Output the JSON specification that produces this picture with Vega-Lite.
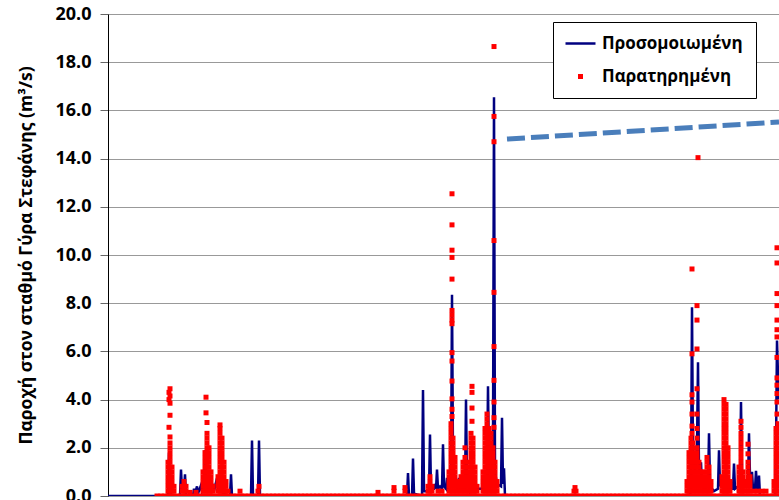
{
"$schema":"https://vega.github.io/schema/vega-lite/v6.json",
"width":671,"height":482,
"autosize":{"type":"none"},
"padding":{"left":108,"top":14,"right":0,"bottom":4},
"background":"white",
"config":{"view":{"stroke":null},
 "legend":{"orient":"none","legendX":445,"legendY":8,"padding":13,"rowPadding":15,"strokeColor":"#000","fillColor":"#fff","labelFont":"Open Sans","labelFontWeight":"bold","labelFontSize":17,"labelColor":"#000","symbolType":"stroke","symbolSize":900,"symbolStrokeWidth":2.5}
},
"datasets":{
"sim":[{"t":0,"v":0},{"t":60,"v":0},{"t":61,"v":1.8},{"t":62,"v":0.5},{"t":63,"v":0},{"t":72,"v":0},{"t":73,"v":1.1},{"t":74,"v":0.2},{"t":76,"v":0.2},{"t":77,"v":0.9},{"t":78,"v":0},{"t":85,"v":0},{"t":86,"v":0.3},{"t":87,"v":0.1},{"t":89,"v":0.4},{"t":90,"v":0.1},{"t":93,"v":0.45},{"t":94,"v":0.2},{"t":95,"v":0.3},{"t":96,"v":0.5},{"t":97,"v":1.9},{"t":98,"v":0.6},{"t":100,"v":0.3},{"t":104,"v":0.3},{"t":105,"v":0.5},{"t":106,"v":0.2},{"t":109,"v":0.75},{"t":110,"v":0.3},{"t":114,"v":0.5},{"t":115,"v":0.1},{"t":122,"v":0},{"t":123,"v":0.9},{"t":124,"v":0},{"t":143,"v":0},{"t":144,"v":2.3},{"t":145,"v":0},{"t":150,"v":0},{"t":151,"v":2.3},{"t":152,"v":0},{"t":299,"v":0},{"t":300,"v":0.95},{"t":301,"v":0},{"t":304,"v":0},{"t":305,"v":1.55},{"t":306,"v":0.1},{"t":314,"v":0},{"t":315,"v":4.4},{"t":316,"v":0.2},{"t":321,"v":0.2},{"t":322,"v":2.55},{"t":323,"v":0.3},{"t":326,"v":0.3},{"t":327,"v":0.5},{"t":328,"v":0.3},{"t":329,"v":1.1},{"t":330,"v":0.3},{"t":332,"v":0.4},{"t":334,"v":0.3},{"t":335,"v":2.15},{"t":336,"v":0.4},{"t":338,"v":0.3},{"t":339,"v":0.75},{"t":340,"v":0.3},{"t":343,"v":0.5},{"t":344,"v":8.35},{"t":345,"v":1.5},{"t":347,"v":0.6},{"t":349,"v":0.4},{"t":351,"v":0.75},{"t":352,"v":0.3},{"t":357,"v":0.3},{"t":358,"v":4.0},{"t":359,"v":0.6},{"t":361,"v":0.5},{"t":362,"v":0.2},{"t":365,"v":0.4},{"t":368,"v":0.3},{"t":374,"v":0.3},{"t":375,"v":0.85},{"t":376,"v":0.3},{"t":378,"v":0.6},{"t":379,"v":0.5},{"t":380,"v":4.55},{"t":381,"v":1.0},{"t":384,"v":1.2},{"t":385,"v":2.0},{"t":386,"v":16.55},{"t":387,"v":1.0},{"t":389,"v":0.5},{"t":393,"v":0.4},{"t":394,"v":3.25},{"t":395,"v":0.5},{"t":396,"v":1.15},{"t":397,"v":0},{"t":582,"v":0},{"t":583,"v":0.6},{"t":584,"v":7.83},{"t":585,"v":1.5},{"t":587,"v":1.0},{"t":589,"v":2.0},{"t":590,"v":5.55},{"t":591,"v":1.0},{"t":593,"v":1.4},{"t":594,"v":0.4},{"t":597,"v":0.3},{"t":598,"v":0.5},{"t":600,"v":0.4},{"t":601,"v":2.6},{"t":602,"v":0.5},{"t":604,"v":0.3},{"t":606,"v":0.2},{"t":610,"v":0.3},{"t":611,"v":1.9},{"t":612,"v":0.4},{"t":614,"v":0.8},{"t":615,"v":0.3},{"t":618,"v":0.4},{"t":621,"v":0.3},{"t":625,"v":0.3},{"t":626,"v":1.35},{"t":627,"v":0.3},{"t":630,"v":0.4},{"t":632,"v":0.6},{"t":633,"v":3.9},{"t":634,"v":0.8},{"t":636,"v":0.6},{"t":638,"v":0.5},{"t":640,"v":0.6},{"t":641,"v":2.6},{"t":642,"v":0.8},{"t":643,"v":0.5},{"t":644,"v":1.0},{"t":645,"v":0.3},{"t":647,"v":0.3},{"t":648,"v":1.05},{"t":649,"v":0.3},{"t":650,"v":0.3},{"t":651,"v":0.85},{"t":652,"v":0},{"t":667,"v":0},{"t":668,"v":2.0},{"t":669,"v":6.45},{"t":670,"v":5.0},{"t":671,"v":4.0}],
"trend":[{"t":399,"v":14.81},{"t":671,"v":15.52}],
"obs":[
{"t":49,"v":0},{"t":53,"v":0},{"t":57,"v":0},{"t":61,"v":0},{"t":65,"v":0},{"t":69,"v":0},{"t":73,"v":0},{"t":77,"v":0},{"t":81,"v":0},{"t":85,"v":0},{"t":89,"v":0},{"t":93,"v":0},{"t":97,"v":0},{"t":101,"v":0},{"t":105,"v":0},{"t":109,"v":0},{"t":113,"v":0},{"t":117,"v":0},{"t":121,"v":0},{"t":125,"v":0},{"t":129,"v":0},{"t":133,"v":0},{"t":137,"v":0},{"t":141,"v":0},{"t":145,"v":0},{"t":149,"v":0},{"t":153,"v":0},{"t":157,"v":0},{"t":161,"v":0},{"t":165,"v":0},{"t":169,"v":0},{"t":173,"v":0},{"t":177,"v":0},{"t":181,"v":0},{"t":185,"v":0},{"t":189,"v":0},{"t":193,"v":0},{"t":197,"v":0},{"t":201,"v":0},{"t":205,"v":0},{"t":209,"v":0},{"t":213,"v":0},{"t":217,"v":0},{"t":221,"v":0},{"t":225,"v":0},{"t":229,"v":0},{"t":233,"v":0},{"t":237,"v":0},{"t":241,"v":0},{"t":245,"v":0},{"t":249,"v":0},{"t":253,"v":0},{"t":257,"v":0},{"t":261,"v":0},{"t":265,"v":0},{"t":269,"v":0},{"t":273,"v":0},{"t":277,"v":0},{"t":281,"v":0},{"t":285,"v":0},{"t":289,"v":0},{"t":293,"v":0},{"t":297,"v":0},{"t":301,"v":0},{"t":305,"v":0},{"t":309,"v":0},{"t":313,"v":0},{"t":317,"v":0},{"t":321,"v":0},{"t":325,"v":0},{"t":329,"v":0},{"t":333,"v":0},{"t":337,"v":0},{"t":341,"v":0},{"t":345,"v":0},{"t":349,"v":0},{"t":353,"v":0},{"t":357,"v":0},{"t":361,"v":0},{"t":365,"v":0},{"t":369,"v":0},{"t":373,"v":0},{"t":377,"v":0},{"t":381,"v":0},{"t":385,"v":0},{"t":389,"v":0},{"t":393,"v":0},{"t":397,"v":0},{"t":401,"v":0},{"t":405,"v":0},{"t":409,"v":0},{"t":413,"v":0},{"t":417,"v":0},{"t":421,"v":0},{"t":425,"v":0},{"t":429,"v":0},{"t":433,"v":0},{"t":437,"v":0},{"t":441,"v":0},{"t":445,"v":0},{"t":449,"v":0},{"t":453,"v":0},{"t":457,"v":0},{"t":461,"v":0},{"t":465,"v":0},{"t":469,"v":0},{"t":473,"v":0},{"t":477,"v":0},{"t":481,"v":0},{"t":485,"v":0},{"t":489,"v":0},{"t":493,"v":0},{"t":497,"v":0},{"t":501,"v":0},{"t":505,"v":0},{"t":509,"v":0},{"t":513,"v":0},{"t":517,"v":0},{"t":521,"v":0},{"t":525,"v":0},{"t":529,"v":0},{"t":533,"v":0},{"t":537,"v":0},{"t":541,"v":0},{"t":545,"v":0},{"t":549,"v":0},{"t":553,"v":0},{"t":557,"v":0},{"t":561,"v":0},{"t":565,"v":0},{"t":569,"v":0},{"t":573,"v":0},{"t":577,"v":0},{"t":581,"v":0},{"t":585,"v":0},{"t":589,"v":0},{"t":593,"v":0},{"t":597,"v":0},{"t":601,"v":0},{"t":605,"v":0},{"t":609,"v":0},{"t":613,"v":0},{"t":617,"v":0},{"t":621,"v":0},{"t":625,"v":0},{"t":629,"v":0},{"t":633,"v":0},{"t":637,"v":0},{"t":641,"v":0},{"t":645,"v":0},{"t":649,"v":0},{"t":653,"v":0},{"t":657,"v":0},{"t":661,"v":0},{"t":665,"v":0},{"t":669,"v":0},{"t":672,"v":0},
{"t":60,"v":0.2},{"t":60,"v":0.4},{"t":60,"v":0.6},{"t":60,"v":0.8},{"t":60,"v":1.0},{"t":60,"v":1.2},{"t":60,"v":1.4},
{"t":62,"v":0.2},{"t":62,"v":0.4},{"t":62,"v":0.6},{"t":62,"v":0.8},{"t":62,"v":1.0},{"t":62,"v":1.2},{"t":62,"v":1.4},{"t":62,"v":1.6},{"t":62,"v":1.8},{"t":62,"v":2.0},{"t":62,"v":2.2},
{"t":64,"v":0.2},{"t":64,"v":0.4},{"t":64,"v":0.6},{"t":64,"v":0.8},{"t":64,"v":1.0},{"t":64,"v":1.2},
{"t":66,"v":0.2},{"t":66,"v":0.4},
{"t":62,"v":2.45},{"t":61,"v":2.85},{"t":62,"v":3.35},{"t":62,"v":3.85},{"t":61,"v":4.0},{"t":62,"v":4.15},{"t":61,"v":4.3},{"t":62,"v":4.45},
{"t":74,"v":0.2},{"t":74,"v":0.4},{"t":76,"v":0.2},{"t":76,"v":0.4},{"t":76,"v":0.6},{"t":78,"v":0.2},{"t":78,"v":0.4},{"t":82,"v":0.15},{"t":88,"v":0.15},
{"t":95,"v":0.2},{"t":95,"v":0.4},{"t":95,"v":0.6},{"t":95,"v":0.8},{"t":95,"v":1.0},
{"t":97,"v":0.2},{"t":97,"v":0.4},{"t":97,"v":0.6},{"t":97,"v":0.8},{"t":97,"v":1.0},{"t":97,"v":1.2},{"t":97,"v":1.4},{"t":97,"v":1.6},{"t":97,"v":1.8},
{"t":99,"v":0.2},{"t":99,"v":0.4},{"t":99,"v":0.6},{"t":99,"v":0.8},{"t":99,"v":1.0},{"t":99,"v":1.2},{"t":99,"v":1.4},{"t":99,"v":1.6},{"t":99,"v":1.8},{"t":99,"v":2.0},{"t":99,"v":2.2},{"t":99,"v":2.4},{"t":99,"v":2.6},
{"t":101,"v":0.2},{"t":101,"v":0.4},{"t":101,"v":0.6},{"t":101,"v":0.8},{"t":101,"v":1.0},{"t":101,"v":1.2},{"t":101,"v":1.4},{"t":101,"v":1.6},{"t":101,"v":1.8},{"t":101,"v":2.0},
{"t":103,"v":0.2},{"t":103,"v":0.4},{"t":103,"v":0.6},{"t":103,"v":0.8},{"t":103,"v":1.0},
{"t":105,"v":0.2},{"t":105,"v":0.4},
{"t":98,"v":4.1},{"t":98,"v":3.45},{"t":99,"v":3.05},
{"t":110,"v":0.2},{"t":110,"v":0.4},{"t":110,"v":0.6},{"t":110,"v":0.8},
{"t":112,"v":0.2},{"t":112,"v":0.4},{"t":112,"v":0.6},{"t":112,"v":0.8},{"t":112,"v":1.0},{"t":112,"v":1.2},{"t":112,"v":1.4},{"t":112,"v":1.6},{"t":112,"v":1.8},{"t":112,"v":2.0},{"t":112,"v":2.2},{"t":112,"v":2.4},{"t":112,"v":2.6},{"t":112,"v":2.8},{"t":112,"v":2.95},
{"t":114,"v":0.2},{"t":114,"v":0.4},{"t":114,"v":0.6},{"t":114,"v":0.8},{"t":114,"v":1.0},{"t":114,"v":1.2},{"t":114,"v":1.4},{"t":114,"v":1.6},{"t":114,"v":1.8},{"t":114,"v":2.0},{"t":114,"v":2.2},{"t":114,"v":2.4},
{"t":116,"v":0.2},{"t":116,"v":0.4},{"t":116,"v":0.6},{"t":116,"v":0.8},{"t":116,"v":1.0},{"t":116,"v":1.2},{"t":116,"v":1.4},
{"t":118,"v":0.2},{"t":118,"v":0.4},{"t":118,"v":0.6},{"t":120,"v":0.2},
{"t":132,"v":0.2},{"t":150,"v":0.2},{"t":151,"v":0.4},
{"t":270,"v":0.15},{"t":286,"v":0.2},{"t":286,"v":0.35},{"t":297,"v":0.2},{"t":297,"v":0.35},
{"t":320,"v":0.2},{"t":320,"v":0.4},{"t":322,"v":0.2},{"t":322,"v":0.4},{"t":322,"v":0.6},{"t":322,"v":0.8},{"t":324,"v":0.2},{"t":324,"v":0.4},{"t":330,"v":0.2},{"t":334,"v":0.2},
{"t":341,"v":0.2},{"t":341,"v":0.4},{"t":341,"v":0.6},{"t":341,"v":0.8},{"t":341,"v":1.0},
{"t":343,"v":0.2},{"t":343,"v":0.4},{"t":343,"v":0.6},{"t":343,"v":0.8},{"t":343,"v":1.0},{"t":343,"v":1.2},{"t":343,"v":1.4},{"t":343,"v":1.6},{"t":343,"v":1.8},{"t":343,"v":2.0},{"t":343,"v":2.2},{"t":343,"v":2.4},{"t":343,"v":2.6},{"t":343,"v":2.8},{"t":343,"v":3.0},
{"t":345,"v":0.2},{"t":345,"v":0.4},{"t":345,"v":0.6},{"t":345,"v":0.8},{"t":345,"v":1.0},{"t":345,"v":1.2},{"t":345,"v":1.4},{"t":345,"v":1.6},{"t":345,"v":1.8},{"t":345,"v":2.0},{"t":345,"v":2.2},{"t":345,"v":2.4},
{"t":347,"v":0.2},{"t":347,"v":0.4},{"t":347,"v":0.6},{"t":347,"v":0.8},{"t":347,"v":1.0},{"t":347,"v":1.2},{"t":347,"v":1.4},{"t":347,"v":1.6},
{"t":349,"v":0.2},{"t":349,"v":0.4},{"t":349,"v":0.6},
{"t":344,"v":3.3},{"t":344,"v":3.6},{"t":344,"v":4.03},{"t":344,"v":4.77},{"t":344,"v":5.6},{"t":344,"v":5.95},{"t":344,"v":7.15},{"t":344,"v":7.3},{"t":344,"v":7.5},{"t":344,"v":7.7},{"t":344,"v":9.0},{"t":344,"v":9.9},{"t":344,"v":10.2},{"t":344,"v":11.25},{"t":344,"v":12.54},
{"t":351,"v":0.2},{"t":351,"v":0.4},{"t":351,"v":0.6},
{"t":353,"v":0.2},{"t":353,"v":0.4},{"t":353,"v":0.6},{"t":353,"v":0.8},
{"t":355,"v":0.2},{"t":355,"v":0.4},{"t":355,"v":0.6},{"t":355,"v":0.8},{"t":355,"v":1.0},{"t":355,"v":1.2},{"t":355,"v":1.4},
{"t":357,"v":0.2},{"t":357,"v":0.4},{"t":357,"v":0.6},{"t":357,"v":0.8},{"t":357,"v":1.0},{"t":357,"v":1.2},{"t":357,"v":1.4},{"t":357,"v":1.6},{"t":357,"v":2.0},
{"t":359,"v":0.2},{"t":359,"v":0.4},{"t":359,"v":0.6},{"t":359,"v":0.8},{"t":359,"v":1.0},
{"t":361,"v":0.2},{"t":361,"v":0.4},{"t":361,"v":0.6},{"t":361,"v":0.8},{"t":361,"v":1.0},{"t":361,"v":1.2},{"t":361,"v":1.4},
{"t":363,"v":0.2},{"t":363,"v":0.4},{"t":363,"v":0.6},{"t":363,"v":0.8},{"t":363,"v":1.0},{"t":363,"v":1.2},{"t":363,"v":1.4},{"t":363,"v":1.6},{"t":363,"v":1.8},{"t":363,"v":2.0},{"t":363,"v":2.2},{"t":363,"v":2.4},{"t":363,"v":2.6},
{"t":365,"v":0.2},{"t":365,"v":0.4},{"t":365,"v":0.6},{"t":365,"v":0.8},{"t":365,"v":1.0},{"t":365,"v":1.2},{"t":365,"v":1.4},{"t":365,"v":1.6},{"t":365,"v":1.8},{"t":365,"v":2.0},{"t":365,"v":2.2},{"t":365,"v":2.4},
{"t":367,"v":0.2},{"t":367,"v":0.4},{"t":367,"v":0.6},{"t":367,"v":0.8},{"t":367,"v":1.0},{"t":367,"v":1.2},
{"t":369,"v":0.2},{"t":369,"v":0.4},
{"t":364,"v":3.1},{"t":364,"v":3.65},{"t":364,"v":4.3},{"t":364,"v":4.55},
{"t":375,"v":0.2},{"t":375,"v":0.4},{"t":375,"v":0.6},{"t":375,"v":0.8},{"t":375,"v":1.0},
{"t":377,"v":0.2},{"t":377,"v":0.4},{"t":377,"v":0.6},{"t":377,"v":0.8},{"t":377,"v":1.0},{"t":377,"v":1.2},{"t":377,"v":1.4},{"t":377,"v":1.6},{"t":377,"v":1.8},{"t":377,"v":2.0},{"t":377,"v":2.2},{"t":377,"v":2.4},{"t":377,"v":2.6},{"t":377,"v":2.8},
{"t":379,"v":0.2},{"t":379,"v":0.4},{"t":379,"v":0.6},{"t":379,"v":0.8},{"t":379,"v":1.0},{"t":379,"v":1.2},{"t":379,"v":1.4},{"t":379,"v":1.6},{"t":379,"v":1.8},{"t":379,"v":2.0},{"t":379,"v":2.2},{"t":379,"v":2.4},{"t":379,"v":2.6},{"t":379,"v":2.8},{"t":379,"v":3.0},{"t":379,"v":3.2},{"t":379,"v":3.4},
{"t":381,"v":0.2},{"t":381,"v":0.4},{"t":381,"v":0.6},{"t":381,"v":0.8},{"t":381,"v":1.0},{"t":381,"v":1.2},{"t":381,"v":1.4},{"t":381,"v":1.6},{"t":381,"v":1.8},{"t":381,"v":2.0},{"t":381,"v":2.2},{"t":381,"v":2.4},{"t":381,"v":2.6},{"t":381,"v":2.8},
{"t":383,"v":0.2},{"t":383,"v":0.4},{"t":383,"v":0.6},{"t":383,"v":0.8},{"t":383,"v":1.0},{"t":383,"v":1.2},{"t":383,"v":1.4},{"t":383,"v":1.6},{"t":383,"v":1.8},{"t":383,"v":2.0},{"t":383,"v":2.2},{"t":383,"v":2.4},{"t":383,"v":2.6},
{"t":385,"v":0.2},{"t":385,"v":0.4},{"t":385,"v":0.6},{"t":385,"v":0.8},{"t":385,"v":1.0},{"t":385,"v":1.2},{"t":385,"v":1.4},{"t":385,"v":1.6},{"t":385,"v":1.8},{"t":385,"v":2.0},
{"t":387,"v":0.2},{"t":387,"v":0.4},{"t":387,"v":0.6},{"t":387,"v":0.8},{"t":387,"v":1.0},{"t":387,"v":1.2},{"t":387,"v":1.4},
{"t":389,"v":0.2},{"t":389,"v":0.4},{"t":389,"v":0.6},
{"t":386,"v":2.85},{"t":386,"v":3.25},{"t":386,"v":3.9},{"t":386,"v":4.8},{"t":386,"v":6.2},{"t":386,"v":8.45},{"t":386,"v":10.6},{"t":386,"v":14.7},{"t":386,"v":15.75},{"t":386,"v":18.65},
{"t":466,"v":0.2},{"t":467,"v":0.35},{"t":468,"v":0.2},
{"t":579,"v":0.2},{"t":579,"v":0.4},{"t":579,"v":0.6},
{"t":581,"v":0.2},{"t":581,"v":0.4},{"t":581,"v":0.6},{"t":581,"v":0.8},{"t":581,"v":1.0},{"t":581,"v":1.2},{"t":581,"v":1.4},{"t":581,"v":1.6},{"t":581,"v":1.8},
{"t":583,"v":0.2},{"t":583,"v":0.4},{"t":583,"v":0.6},{"t":583,"v":0.8},{"t":583,"v":1.0},{"t":583,"v":1.2},{"t":583,"v":1.4},{"t":583,"v":1.6},{"t":583,"v":1.8},{"t":583,"v":2.0},{"t":583,"v":2.2},{"t":583,"v":2.4},
{"t":585,"v":0.2},{"t":585,"v":0.4},{"t":585,"v":0.6},{"t":585,"v":0.8},{"t":585,"v":1.0},{"t":585,"v":1.2},{"t":585,"v":1.4},{"t":585,"v":1.6},{"t":585,"v":1.8},{"t":585,"v":2.0},{"t":585,"v":2.2},
{"t":587,"v":0.2},{"t":587,"v":0.4},{"t":587,"v":0.6},{"t":587,"v":0.8},{"t":587,"v":1.0},{"t":587,"v":1.2},{"t":587,"v":1.4},{"t":587,"v":1.6},
{"t":589,"v":0.2},{"t":589,"v":0.4},{"t":589,"v":0.6},{"t":589,"v":0.8},{"t":589,"v":1.0},{"t":589,"v":1.2},{"t":589,"v":1.4},{"t":589,"v":1.6},{"t":589,"v":1.8},{"t":589,"v":2.0},
{"t":591,"v":0.2},{"t":591,"v":0.4},{"t":591,"v":0.6},{"t":591,"v":0.8},{"t":591,"v":1.0},{"t":591,"v":1.2},{"t":591,"v":1.4},
{"t":593,"v":0.2},{"t":593,"v":0.4},{"t":593,"v":0.6},{"t":593,"v":0.8},{"t":593,"v":1.0},
{"t":595,"v":0.2},{"t":595,"v":0.4},{"t":595,"v":0.6},{"t":595,"v":0.8},{"t":595,"v":1.0},
{"t":597,"v":0.2},{"t":597,"v":0.4},{"t":597,"v":0.6},{"t":597,"v":0.8},
{"t":599,"v":0.2},{"t":599,"v":0.4},{"t":599,"v":0.6},{"t":599,"v":0.8},{"t":599,"v":1.0},{"t":599,"v":1.2},{"t":599,"v":1.4},{"t":599,"v":1.6},
{"t":601,"v":0.2},{"t":601,"v":0.4},{"t":601,"v":0.6},{"t":601,"v":0.8},{"t":601,"v":1.0},{"t":601,"v":1.2},
{"t":603,"v":0.2},{"t":603,"v":0.4},{"t":603,"v":0.6},
{"t":584,"v":2.6},{"t":584,"v":2.9},{"t":584,"v":3.4},{"t":584,"v":3.9},{"t":584,"v":4.2},{"t":584,"v":5.9},{"t":584,"v":9.42},
{"t":589,"v":2.4},{"t":589,"v":2.8},{"t":589,"v":3.4},{"t":589,"v":4.45},{"t":589,"v":6.1},{"t":589,"v":7.3},{"t":589,"v":7.9},{"t":590,"v":14.04},
{"t":614,"v":0.2},{"t":614,"v":0.4},{"t":614,"v":0.6},{"t":614,"v":0.8},
{"t":616,"v":0.2},{"t":616,"v":0.4},{"t":616,"v":0.6},{"t":616,"v":0.8},{"t":616,"v":1.0},{"t":616,"v":1.2},{"t":616,"v":1.4},{"t":616,"v":1.6},{"t":616,"v":1.8},{"t":616,"v":2.0},{"t":616,"v":2.2},{"t":616,"v":2.4},{"t":616,"v":2.6},{"t":616,"v":2.8},{"t":616,"v":3.0},{"t":616,"v":3.2},{"t":616,"v":3.4},{"t":616,"v":3.6},{"t":616,"v":3.8},{"t":616,"v":4.0},
{"t":618,"v":0.2},{"t":618,"v":0.4},{"t":618,"v":0.6},{"t":618,"v":0.8},{"t":618,"v":1.0},{"t":618,"v":1.2},{"t":618,"v":1.4},{"t":618,"v":1.6},{"t":618,"v":1.8},{"t":618,"v":2.0},{"t":618,"v":2.2},{"t":618,"v":2.4},{"t":618,"v":2.6},{"t":618,"v":2.8},{"t":618,"v":3.0},{"t":618,"v":3.2},{"t":618,"v":3.4},{"t":618,"v":3.6},{"t":618,"v":3.8},
{"t":620,"v":0.2},{"t":620,"v":0.4},{"t":620,"v":0.6},{"t":620,"v":0.8},{"t":620,"v":1.0},{"t":620,"v":1.2},{"t":620,"v":1.4},{"t":620,"v":1.6},{"t":620,"v":1.8},{"t":620,"v":2.0},
{"t":622,"v":0.2},{"t":622,"v":0.4},{"t":622,"v":0.6},
{"t":631,"v":0.2},{"t":631,"v":0.4},{"t":631,"v":0.6},{"t":631,"v":0.8},{"t":631,"v":1.0},{"t":631,"v":1.2},
{"t":633,"v":0.2},{"t":633,"v":0.4},{"t":633,"v":0.6},{"t":633,"v":0.8},{"t":633,"v":1.0},{"t":633,"v":1.2},{"t":633,"v":1.4},{"t":633,"v":1.6},{"t":633,"v":1.8},{"t":633,"v":2.0},{"t":633,"v":2.2},{"t":633,"v":2.4},{"t":633,"v":2.6},{"t":633,"v":2.85},{"t":633,"v":3.1},
{"t":635,"v":0.2},{"t":635,"v":0.4},{"t":635,"v":0.6},{"t":635,"v":0.8},{"t":635,"v":1.0},
{"t":637,"v":0.2},{"t":637,"v":0.4},{"t":637,"v":0.6},
{"t":640,"v":0.2},{"t":640,"v":0.4},{"t":640,"v":0.6},{"t":640,"v":0.8},{"t":640,"v":1.0},{"t":640,"v":1.2},{"t":640,"v":1.4},{"t":640,"v":1.75},{"t":640,"v":2.15},
{"t":642,"v":0.2},{"t":642,"v":0.4},{"t":642,"v":0.6},{"t":642,"v":0.8},
{"t":646,"v":0.2},{"t":650,"v":0.2},{"t":654,"v":0.2},{"t":658,"v":0.2},
{"t":666,"v":0.2},{"t":666,"v":0.4},{"t":666,"v":0.6},
{"t":668,"v":0.2},{"t":668,"v":0.4},{"t":668,"v":0.6},{"t":668,"v":0.8},{"t":668,"v":1.0},{"t":668,"v":1.2},{"t":668,"v":1.4},{"t":668,"v":1.6},{"t":668,"v":1.8},{"t":668,"v":2.0},{"t":668,"v":2.2},{"t":668,"v":2.4},{"t":668,"v":2.6},{"t":668,"v":2.8},
{"t":670,"v":0.2},{"t":670,"v":0.4},{"t":670,"v":0.6},{"t":670,"v":0.8},{"t":670,"v":1.0},{"t":670,"v":1.2},{"t":670,"v":1.4},{"t":670,"v":1.6},{"t":670,"v":1.8},{"t":670,"v":2.0},{"t":670,"v":2.2},{"t":670,"v":2.4},{"t":670,"v":2.6},{"t":670,"v":2.8},{"t":670,"v":3.0},
{"t":669,"v":3.4},{"t":669,"v":3.9},{"t":669,"v":4.25},{"t":669,"v":4.6},{"t":669,"v":4.9},{"t":669,"v":5.75},{"t":669,"v":6.6},{"t":669,"v":6.9},{"t":669,"v":7.3},{"t":669,"v":7.9},{"t":669,"v":8.4},{"t":669,"v":9.67},{"t":669,"v":10.3}
]},
"layer":[
{"data":{"name":"sim"},
 "mark":{"type":"line","strokeWidth":2.5,"clip":true},
 "encoding":{
  "x":{"field":"t","type":"quantitative","scale":{"domain":[0,671],"nice":false,"zero":false},"axis":null},
  "y":{"field":"v","type":"quantitative","scale":{"domain":[0,20],"nice":false},
   "axis":{"title":"Παροχή στον σταθμό Γύρα Στεφάνης (m³/s)","values":[0,2,4,6,8,10,12,14,16,18,20],"format":".1f",
    "labelFont":"Open Sans","labelFontWeight":"bold","labelFontSize":18,"labelColor":"#000","labelPadding":9,
    "titleFont":"Open Sans","titleFontWeight":"bold","titleFontSize":17.5,"titleColor":"#000","titlePadding":19,
    "domainColor":"#000","domainWidth":1,"tickColor":"#666","tickSize":8,"tickWidth":1,
    "grid":true,"gridColor":"#999","gridWidth":1}},
  "color":{"datum":"Προσομοιωμένη","type":"nominal",
   "scale":{"domain":["Προσομοιωμένη","Παρατηρημένη"],"range":["#000080","#ff0000"]},
   "legend":{"title":null,"symbolOffset":6,"labelOffset":13,
    "encode":{"symbols":{"update":{
     "shape":{"signal":"datum.value === 'Παρατηρημένη' ? 'square' : 'stroke'"},
     "size":{"signal":"datum.value === 'Παρατηρημένη' ? 25 : 900"},
     "fill":{"signal":"datum.value === 'Παρατηρημένη' ? '#ff0000' : 'transparent'"},
     "stroke":{"signal":"datum.value === 'Παρατηρημένη' ? 'transparent' : '#000080'"},
     "strokeWidth":{"signal":"datum.value === 'Παρατηρημένη' ? 0 : 2.5"},
     "opacity":{"value":1}}}}}}
 }},
{"data":{"name":"obs"},
 "mark":{"type":"square","size":25,"opacity":1,"clip":true},
 "encoding":{
  "x":{"field":"t","type":"quantitative"},
  "y":{"field":"v","type":"quantitative"},
  "color":{"datum":"Παρατηρημένη","type":"nominal"}}},
{"data":{"name":"trend"},
 "mark":{"type":"line","strokeWidth":5,"strokeDash":[18,6],"color":"#4A7EBB","clip":true},
 "encoding":{
  "x":{"field":"t","type":"quantitative"},
  "y":{"field":"v","type":"quantitative"}}}
]
}
